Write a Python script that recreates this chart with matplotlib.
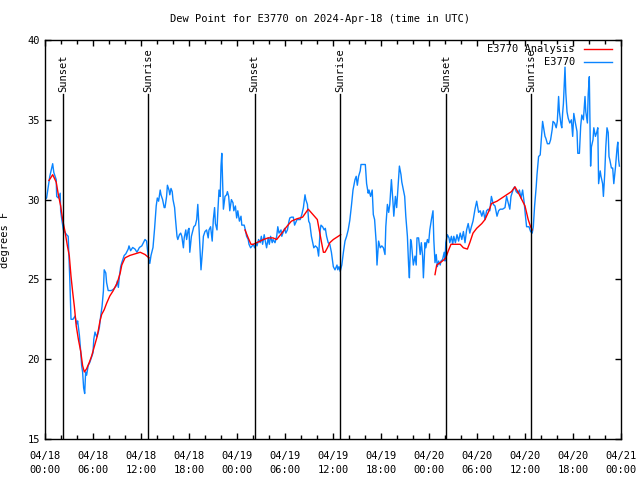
import numpy as np
import pandas as pd
import matplotlib
matplotlib.use('Agg')
import matplotlib.pyplot as plt
import matplotlib.dates as mdates

plt.rcParams['font.family'] = ['DejaVu Sans Mono']
plt.rcParams['font.size'] = 7.5

# hours after 2024-04-18 00:00 UTC
obs_hours = [0.0, 0.2, 0.6, 0.96, 1.1, 1.4, 1.46, 1.67, 1.9, 1.96, 2.1, 2.3, 2.7, 2.9, 3.1, 3.25, 3.5, 3.75, 3.96,
             4.08, 4.3, 4.46, 4.58, 4.7, 4.83, 4.96, 5.08, 5.2, 5.4, 5.6, 5.8, 6.0, 6.1, 6.25, 6.46, 6.67, 6.8, 6.96,
             7.13, 7.3, 7.4, 7.6, 7.7, 7.9, 8.3, 8.6, 8.9, 9.04, 9.17, 9.3, 9.46, 9.6, 9.9, 10.1, 10.4, 10.5, 10.7,
             10.96, 11.25, 11.5, 11.8, 12.1, 12.3, 12.5, 12.7, 12.8, 12.96, 13.1, 13.25, 13.5, 13.7, 13.9, 14.04,
             14.2, 14.4, 14.5, 14.7, 14.9, 15.0, 15.2, 15.3, 15.5, 15.6, 15.75, 15.9, 16.0, 16.2, 16.3, 16.5, 16.6,
             16.8, 16.96, 17.1, 17.3, 17.4, 17.6, 17.7, 17.9, 18.0, 18.1, 18.3, 18.5, 18.6, 18.8, 18.96, 19.1, 19.2,
             19.4, 19.5, 19.7, 19.8, 20.0, 20.2, 20.4, 20.5, 20.7, 20.9, 21.04, 21.2, 21.3, 21.5, 21.6, 21.75, 21.9,
             22.0, 22.1, 22.2, 22.3, 22.5, 22.7, 22.8, 22.96, 23.1, 23.3, 23.5, 23.6, 23.8, 23.96, 24.1, 24.3, 24.5,
             24.6, 24.9, 25.04, 25.2, 25.4, 25.5, 25.7, 25.9, 26.04, 26.2, 26.4, 26.5, 26.7, 26.9, 27.04, 27.2, 27.4,
             27.5, 27.7, 27.9, 28.04, 28.2, 28.4, 28.5, 28.75, 28.96, 29.1, 29.25, 29.5, 29.6, 29.8, 29.96, 30.1,
             30.3, 30.5, 30.6, 30.8, 31.04, 31.2, 31.5, 31.7, 31.9, 32.1, 32.3, 32.5, 32.6, 32.8, 32.96, 33.1, 33.3,
             33.5, 33.6, 33.8, 34.04, 34.2, 34.4, 34.5, 34.7, 34.9, 35.04, 35.2, 35.4, 35.6, 35.8, 36.04, 36.25,
             36.5, 36.6, 36.75, 36.9, 37.1, 37.3, 37.5, 37.7, 37.9, 38.1, 38.3, 38.5, 38.75, 38.9, 39.04, 39.2,
             39.4, 39.5, 39.8, 40.04, 40.2, 40.4, 40.5, 40.7, 40.9, 41.04, 41.2, 41.4, 41.5, 41.7, 41.9, 42.1, 42.3,
             42.5, 42.6, 42.8, 42.96, 43.1, 43.3, 43.5, 43.6, 43.8, 43.96, 44.1, 44.3, 44.5, 44.6, 44.8, 44.96,
             45.1, 45.3, 45.45, 45.55, 45.7, 45.8, 46.04, 46.25, 46.4, 46.5, 46.7, 46.9, 47.04, 47.2, 47.3, 47.5,
             47.6, 47.8, 47.96, 48.1, 48.3, 48.5, 48.6, 48.75, 48.9, 49.04, 49.2, 49.4, 49.5, 49.7, 49.9, 50.0,
             50.1, 50.3, 50.5, 50.6, 50.8, 50.96, 51.1, 51.3, 51.5, 51.7, 51.9, 52.1, 52.3, 52.5, 52.7, 52.9, 53.1,
             53.3, 53.5, 53.75, 53.96, 54.2, 54.4, 54.6, 54.8, 55.0, 55.2, 55.4, 55.6, 55.8, 56.04, 56.25, 56.5,
             56.7, 56.9, 57.2, 57.5, 57.7, 57.9, 58.1, 58.25, 58.5, 58.7, 58.9, 59.1, 59.3, 59.5, 59.7, 59.9, 60.05,
             60.2, 60.5, 60.7, 60.9, 61.04, 61.2, 61.4, 61.5, 61.7, 61.9, 62.04, 62.2, 62.3, 62.5, 62.6, 62.8,
             63.04, 63.2, 63.4, 63.5, 63.7, 63.9, 64.04, 64.2, 64.3, 64.5, 64.6, 64.7, 64.8, 64.9, 65.0, 65.1,
             65.25, 65.4, 65.6, 65.8, 65.96, 66.1, 66.3, 66.5, 66.6, 66.8, 66.96, 67.1, 67.3, 67.5, 67.6, 67.8,
             67.9, 68.04, 68.2, 68.3, 68.5, 68.6, 68.8, 68.96, 69.1, 69.2, 69.4, 69.5, 69.7, 69.8, 69.96, 70.1,
             70.25, 70.4, 70.5, 70.6, 70.8, 70.96, 71.1, 71.3, 71.5, 71.6, 71.7, 71.8]
obs_dewpt = [30.0, 30.1, 31.46, 32.25, 31.7, 31.25, 30.2, 30.1, 30.4, 29.27, 28.75, 28.1, 27.8, 27.7, 25.0, 22.5,
             22.5, 22.7, 22.2, 22.4, 21.5, 20.5, 19.6, 19.2, 18.2, 17.85, 19.2, 19.0, 19.6, 19.8, 20.1, 20.4, 21.25,
             21.7, 21.4, 21.7, 22.0, 22.7, 23.3, 24.27, 25.6, 25.4, 24.8, 24.3, 24.3, 24.4, 24.6, 24.9, 24.5, 25.2,
             25.8, 26.05, 26.5, 26.6, 26.9, 27.1, 26.8, 27.0, 26.9, 26.7, 27.0, 27.1, 27.3, 27.5, 27.4, 26.9, 26.25,
             26.0, 26.5, 27.0, 28.2, 29.6, 30.1, 29.9, 30.6, 30.3, 30.0, 29.5, 29.5, 30.2, 30.9, 30.6, 30.3, 30.7,
             30.5, 30.0, 29.5, 28.85, 27.7, 27.5, 27.8, 27.9, 27.7, 26.98, 27.6, 28.1, 27.5, 28.1, 28.2, 26.7, 27.7,
             28.1, 28.3, 28.4, 28.75, 29.7, 28.75, 26.7, 25.6, 26.9, 27.7, 28.0, 28.1, 27.6, 28.1, 28.3, 27.4,
             28.75, 29.5, 28.5, 28.1, 29.2, 30.6, 30.2, 32.1, 32.9, 31.25, 29.4, 30.2, 30.3, 30.5, 30.2, 29.3, 30.0,
             29.8, 29.3, 29.6, 28.85, 29.3, 28.65, 28.96, 28.4, 28.4, 28.1, 27.7, 27.5, 27.2, 26.98, 27.1, 27.2,
             26.98, 27.3, 27.1, 27.5, 27.3, 27.7, 27.2, 27.8, 27.5, 26.98, 27.6, 27.2, 27.7, 27.3, 27.5, 27.3, 27.7,
             28.3, 27.9, 28.1, 27.7, 28.0, 28.2, 27.9, 28.1, 28.65, 28.85, 28.9, 28.9, 28.4, 28.75, 28.75, 28.75,
             29.06, 29.5, 30.3, 30.0, 29.7, 28.65, 28.5, 27.7, 27.2, 26.98, 27.1, 26.98, 26.46, 28.1, 28.4, 28.3,
             28.1, 28.2, 27.7, 27.3, 27.2, 26.7, 25.8, 25.6, 25.9, 25.6, 25.8, 25.5, 25.9, 26.7, 27.4, 27.7, 28.1,
             28.7, 29.6, 30.6, 31.25, 31.46, 30.9, 31.46, 31.8, 32.2, 32.2, 32.2, 31.0, 30.4, 30.6, 30.2, 30.6,
             29.06, 28.75, 27.3, 25.9, 27.4, 26.98, 27.1, 26.98, 26.56, 28.3, 29.7, 29.2, 29.7, 31.25, 29.8, 28.96,
             30.2, 29.5, 30.6, 32.1, 31.56, 31.1, 30.6, 30.2, 28.96, 27.7, 25.9, 25.1, 27.5, 27.3, 25.9, 26.46,
             25.9, 27.6, 27.6, 26.56, 27.3, 26.46, 25.1, 27.3, 26.98, 27.5, 27.3, 28.1, 28.75, 29.3, 27.5, 26.05,
             26.56, 25.8, 26.15, 25.9, 26.15, 26.25, 26.7, 26.15, 27.3, 27.8, 27.6, 27.3, 27.7, 27.2, 27.7, 27.3,
             27.8, 27.4, 27.9, 27.5, 28.0, 27.3, 28.1, 28.5, 27.9, 28.3, 28.65, 29.4, 29.9, 29.2, 29.3, 28.96, 29.3,
             28.75, 29.3, 29.4, 29.3, 30.2, 29.7, 29.6, 28.96, 29.3, 29.4, 29.4, 29.5, 30.2, 29.8, 29.4, 30.2, 30.6,
             30.8, 30.5, 30.4, 30.6, 30.1, 30.6, 29.8, 29.0, 28.3, 28.3, 28.0, 27.9, 28.3, 29.6, 30.8, 31.56, 32.7,
             32.8, 33.75, 34.9, 34.6, 33.96, 33.85, 33.5, 33.5, 33.75, 34.4, 34.9, 34.8, 34.5, 34.9, 36.46, 35.5,
             34.7, 34.5, 35.4, 36.0, 37.1, 38.3, 36.7, 35.5, 35.1, 34.8, 35.0, 33.96, 35.4, 34.8, 34.27, 32.9, 32.9,
             34.6, 35.3, 35.0, 36.46, 35.5, 34.8, 36.6, 37.7, 32.1, 33.3, 33.75, 34.5, 33.96, 34.2, 34.5, 31.0, 31.8,
             31.46, 31.0, 30.2, 31.56, 33.3, 34.5, 34.2, 32.7, 32.5, 31.98, 31.98, 31.0, 31.98, 33.2, 33.6, 32.5,
             32.1]

# analysis, NaN marks the gaps
ana_hours = [0.5, 0.96, 1.4, 1.67, 1.96, 2.2, 2.5, 2.8, 3.04, 3.25, 3.46, 3.67, 3.9, 4.17, 4.46, 4.7, 4.92, 5.2,
             5.54, 5.83, 6.17, 6.54, 6.875, 7.08, 7.4, 7.7, 8.1, 8.5, 9.04, 9.4, 9.6, 10.0, 10.6, 11.25, 11.9, 12.5,
             13.0, 19.0,
             25.0, 25.4, 25.75, 26.04, 26.46, 26.9, 27.3, 27.9, 28.5, 28.96, 29.6, 30.2, 30.8, 31.5, 32.2, 32.9,
             33.5, 34.04, 34.5, 34.8, 35.0, 35.3, 35.6, 36.04, 36.5, 36.96, 43.0,
             48.75, 48.96, 49.4, 49.8, 50.1, 50.4, 50.75, 51.25, 51.9, 52.3, 52.8, 53.1, 53.5, 53.96, 54.6, 55.0,
             55.5, 55.8, 56.5, 57.1, 57.7, 58.3, 58.75, 59.2, 59.6, 60.0, 60.4, 60.7, 60.9]
ana_dewpt = [31.2, 31.56, 31.1, 30.3, 29.6, 28.75, 28.0, 27.1, 26.46, 25.2, 24.2, 23.3, 22.1, 21.25, 20.5, 19.6,
             19.2, 19.4, 19.8, 20.2, 20.8, 21.46, 22.4, 22.8, 23.1, 23.5, 23.96, 24.27, 24.8, 25.4, 25.9, 26.35,
             26.5, 26.6, 26.7, 26.56, 26.35, np.nan,
             28.1, 27.6, 27.2, 27.2, 27.3, 27.4, 27.5, 27.6, 27.6, 27.5, 27.9, 28.3, 28.65, 28.8, 28.9, 29.4,
             29.06, 28.75, 27.5, 26.7, 26.7, 26.98, 27.3, 27.5, 27.65, 27.8, np.nan,
             25.3, 25.9, 26.05, 26.2, 26.35, 26.77, 27.2, 27.2, 27.2, 26.98, 26.9, 27.3, 27.9, 28.2, 28.5, 28.75,
             29.3, 29.75, 29.9, 30.1, 30.3, 30.5, 30.8, 30.4, 30.0, 29.6, 28.75, 28.3, 28.1]

sun_times = ['2024-04-18 02:15', '2024-04-18 12:55', '2024-04-19 02:12',
             '2024-04-19 12:56', '2024-04-20 02:10', '2024-04-20 12:48']
sun_labels = ['Sunset', 'Sunrise', 'Sunset', 'Sunrise', 'Sunset', 'Sunrise']

start = pd.Timestamp('2024-04-18 00:00')
obs_t = start + pd.to_timedelta(obs_hours, unit='h')
ana_t = start + pd.to_timedelta(ana_hours, unit='h')

red = '#ff0000'
blue = '#0a84ff'

fig = plt.figure(figsize=(6.4, 4.8), dpi=100)
ax = fig.add_axes([45 / 640, 41 / 480, 576 / 640, 399 / 480])

ax.plot(obs_t, obs_dewpt, color=blue, lw=1.0, zorder=2)
ax.plot(ana_t, ana_dewpt, color=red, lw=1.0, zorder=3)

for st, lab in zip(sun_times, sun_labels):
    t = pd.Timestamp(st)
    ax.axvline(t, ymin=0, ymax=0.865, color='black', lw=1.0, zorder=4)
    ax.text(t, 0.87, lab, transform=ax.get_xaxis_transform(), rotation=90,
            ha='center', va='bottom', fontsize=7.5)

ax.set_xlim(start, start + pd.Timedelta(hours=72))
ax.set_ylim(15, 40)
ax.set_yticks([15, 20, 25, 30, 35, 40])
ax.xaxis.set_major_locator(mdates.HourLocator(byhour=[0, 6, 12, 18]))
ax.xaxis.set_major_formatter(mdates.DateFormatter('%m/%d\n%H:%M'))
ax.xaxis.set_minor_locator(mdates.HourLocator(byhour=range(0, 24, 2)))
ax.tick_params(axis='both', which='major', direction='in', length=4, width=1,
               top=True, right=True, labelsize=7.5)
ax.tick_params(axis='x', which='minor', direction='in', length=3, width=1, top=True)
ax.tick_params(axis='x', which='major', pad=9)
for lbl in ax.get_xticklabels():
    lbl.set_linespacing(1.45)
for sp in ax.spines.values():
    sp.set_linewidth(1.0)

ax.set_ylabel('degrees F', fontsize=7.5)
ax.yaxis.set_label_coords(-35 / 576, 0.5)
fig.text(0.5, 1 - 19 / 480, 'Dew Point for E3770 on 2024-Apr-18 (time in UTC)',
         ha='center', va='center', fontsize=7.5)

# key in gnuplot style: right aligned text, sample line after it
for i, (lab, col) in enumerate([('E3770 Analysis', red), ('E3770', blue)]):
    yk = 1 - (9 + 13 * i) / 399
    ax.text(0.92, yk, lab, transform=ax.transAxes, ha='right', va='center', fontsize=7.5)
    ax.plot([0.935, 0.985], [yk, yk], transform=ax.transAxes, color=col, lw=1.0)

fig.savefig('out.png', dpi=100)
